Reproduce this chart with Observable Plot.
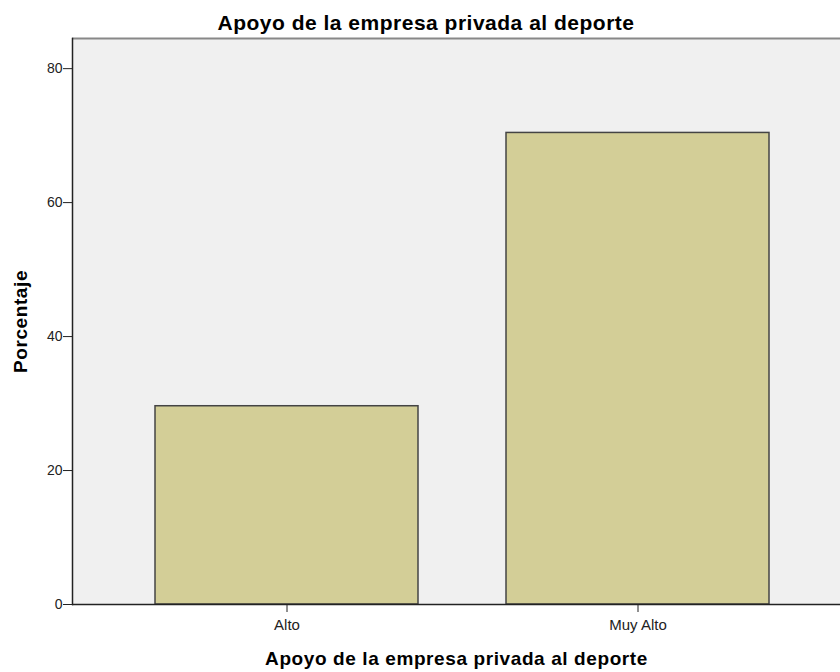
<!DOCTYPE html>
<html>
<head>
<meta charset="utf-8">
<script src="https://cdn.jsdelivr.net/npm/d3@7"></script>
<script src="https://cdn.jsdelivr.net/npm/@observablehq/plot@0.6"></script>
<style>
  html, body { margin: 0; padding: 0; background: #fff; }
  #chart { width: 840px; height: 672px; position: relative; }
  .title { position: absolute; top: 11px; left: 6px; width: 840px; text-align: center; line-height: 21px;
    font: bold 21px "Liberation Sans", Arial, sans-serif; letter-spacing: 0.5px; color: #000; }
</style>
</head>
<body>
<div id="chart"></div>
<script>
const categories = ["Alto", "Muy Alto"];
const values = [29.6, 70.4];
const yTicks = [0, 20, 40, 60, 80];
const titleText = "Apoyo de la empresa privada al deporte";
const xLabel = "Apoyo de la empresa privada al deporte";
const yLabel = "Porcentaje";

const data = categories.map((c, i) => ({ cat: c, val: values[i] }));
const yMax = 84.5;

const plot = Plot.plot({
  width: 840,
  height: 672,
  marginTop: 38,
  marginBottom: 68,
  marginLeft: 72,
  marginRight: 0,
  style: { fontFamily: "'Liberation Sans', Arial, sans-serif", fontSize: "15px", background: "transparent", overflow: "visible" },
  x: { domain: categories, range: [72, 852], paddingInner: 0.25, paddingOuter: 0.235, align: 0.5, label: null },
  y: { domain: [0, yMax], label: null },
  marks: [
    Plot.frame({ fill: "#F0F0F0", stroke: null }),
    Plot.barY(data, { x: "cat", y: "val", fill: "#D3CE97", stroke: "#444", strokeWidth: 1.5 }),
    Plot.ruleY([yMax], { stroke: "#888", strokeWidth: 2 }),
    Plot.frame({ anchor: "left", stroke: "#222", strokeWidth: 1.5 }),
    Plot.ruleY([0], { stroke: "#222", strokeWidth: 1.5 }),
    Plot.axisY({ ticks: yTicks, tickSize: 9, tickFormat: d => d, stroke: "#222", color: "#222", fontSize: 14, tickPadding: 1 }),
    Plot.axisX({ tickSize: 8, tickPadding: 7, color: "#222", fontSize: 15, label: null }),
    Plot.text([yLabel], { frameAnchor: "left", textAnchor: "middle", dx: -52, rotate: -90, fontWeight: "bold", fontSize: 19, fill: "#000" }),
    Plot.text([xLabel], { frameAnchor: "bottom", lineAnchor: "bottom", dy: 60, fontWeight: "bold", fontSize: 19, fill: "#000" })
  ]
});

d3.select(plot).selectAll("text").filter(function() { return this.textContent === xLabel || this.textContent === yLabel; })
  .style("letter-spacing", "0.6px");

const chart = document.getElementById("chart");
const t = document.createElement("div");
t.className = "title";
t.textContent = titleText;
chart.appendChild(plot);
chart.appendChild(t);
</script>
</body>
</html>
